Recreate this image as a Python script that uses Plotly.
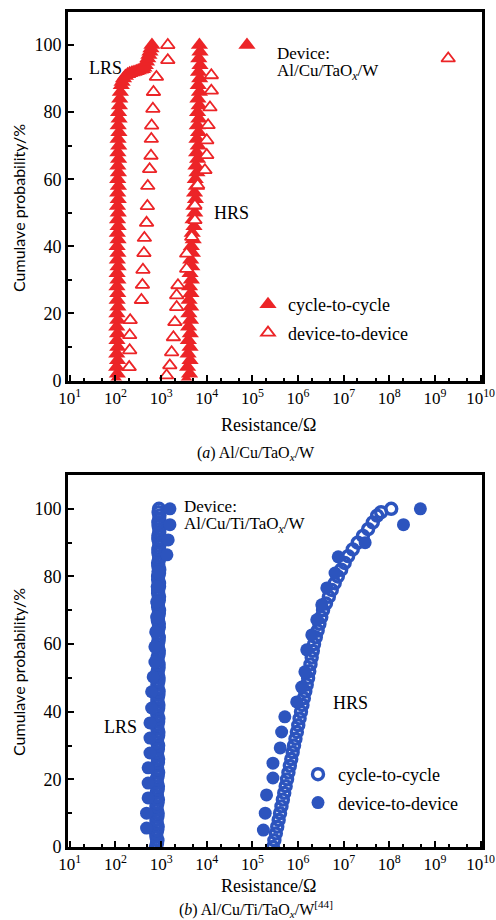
import plotly.graph_objects as go

W, H = 496, 920
RED = "#ec2427"
BLUE = "#2c54be"
SERIF = "Liberation Serif"
SANS = "Lato"

# ---------------- (a) Al/Cu/TaOx/W ----------------
# cycle-to-cycle, LRS (resistance in ohm, cumulative probability in %)
a_c2c_lrs_P = [0, 2, 4, 6, 8, 10, 12, 14, 16, 18, 20, 22, 24, 26, 28, 30, 32, 34, 36, 38,
               40, 42, 44, 46, 48, 50, 52, 54, 56, 58, 60, 62, 64, 66, 68, 70, 72, 74, 76, 78,
               80, 82, 84, 86, 88,
               89, 90, 90.8, 91.3, 91.6, 91.8, 92, 92.2, 92.4, 92.6, 92.8, 93.2, 94, 95, 96, 97, 98, 99, 100]
a_c2c_lrs_R = [104, 110, 106, 111, 107, 112, 108, 111, 107, 112, 108, 113, 109, 112, 108, 113, 109, 114, 110, 113,
               109, 114, 110, 114, 111, 115, 111, 115, 112, 116, 112, 116, 113, 117, 113, 118, 114, 119, 115, 120,
               117, 122, 124, 128, 134,
               140, 150, 165, 185, 205, 230, 255, 285, 315, 350, 390, 420, 450, 480, 510, 540, 570, 600, 630]
# cycle-to-cycle, HRS
a_c2c_hrs_P = [0, 2, 4, 6, 8, 10, 12, 14, 16, 18, 20, 22, 24, 26, 28, 30, 32, 34, 36, 38,
               40, 42, 44, 46, 48, 50, 52, 54, 56, 58, 60, 62, 64, 66, 68, 70, 72, 74, 76, 78,
               80, 82, 84, 86, 88, 90, 92, 94, 96, 98, 100, 100]
a_c2c_hrs_R = [3600, 4200, 3800, 4300, 3900, 4300, 3950, 4350, 4000, 4400,
               4050, 4450, 4100, 4500, 4200, 4600, 4300, 4700, 4450, 4850,
               4600, 5050, 4800, 5250, 5000, 5450, 5200, 5650, 5400, 5900,
               5600, 6100, 5800, 6300, 6000, 6500, 6100, 6600, 6200, 6700,
               6300, 6800, 6400, 6900, 6500, 7000, 6600, 7100, 6700, 7100, 6900, 76000]
# device-to-device, LRS
a_d2d_lrs_P = [4, 9, 13.5, 18, 24, 28.5, 33, 38, 42.5, 47, 52, 58, 63, 67, 72, 76, 81, 86, 90.5, 95.5, 100]
a_d2d_lrs_R = [200, 205, 205, 210, 370, 390, 400, 420, 430, 480, 500, 510, 560, 600, 610, 620, 660, 680, 790, 1400, 1400]
# device-to-device, HRS
a_d2d_hrs_P = [1.5, 4.5, 8.4, 12.9, 17.4, 21.9, 25.4, 28.4, 33.3, 37.8, 42.8, 47.8, 52.2,
               58.2, 62.7, 67.2, 71.6, 76.1, 81.4, 86.4, 91, 96]
a_d2d_hrs_R = [1320, 1550, 1700, 1860, 2000, 2190, 2190, 2340, 3630, 3630, 4680, 5500, 5500,
               6310, 9120, 10000, 10000, 10700, 11750, 12590, 12590, 1.95e9]

# ---------------- (b) Al/Cu/Ti/TaOx/W ----------------
b_c2c_lrs_P = [0, 1, 2, 3, 4, 5, 6, 7, 8, 9, 10, 11, 12, 13, 14, 15, 16, 17, 18, 19,
               20, 21, 22, 23, 24, 25, 26, 27, 28, 29, 30, 31, 32, 33, 34, 35, 36, 37, 38, 39,
               40, 41, 42, 43, 44, 45, 46, 47, 48, 49, 50, 51, 52, 53, 54, 55, 56, 57, 58, 59,
               60, 61, 62, 63, 64, 65, 66, 67, 68, 69, 70, 71, 72, 73, 74, 75, 76, 77, 78, 79,
               80, 81, 82, 83, 84, 85, 86, 87, 88, 89, 90, 91, 92, 93, 94, 95, 96, 97, 98, 99, 100]
b_c2c_lrs_R = [770, 810, 830, 790, 780, 820, 840, 800, 790, 830,
               840, 800, 790, 830, 850, 810, 800, 840, 850, 810,
               800, 840, 860, 820, 810, 850, 860, 820, 810, 850,
               860, 820, 820, 860, 870, 830, 820, 860, 870, 830,
               820, 860, 870, 830, 830, 870, 880, 840, 830, 870,
               880, 840, 840, 880, 880, 840, 840, 880, 890, 850,
               840, 880, 890, 850, 850, 890, 890, 850, 850, 890,
               900, 860, 850, 890, 900, 860, 860, 900, 900, 860,
               860, 900, 910, 870, 860, 900, 910, 870, 870, 910,
               910, 870, 870, 910, 920, 880, 870, 910, 920, 880, 900]
b_c2c_hrs_P = [0, 2, 4, 6, 8, 10, 12, 14, 16, 18, 20, 22, 24, 26, 28, 30, 32, 34, 36, 38,
               40, 42, 44, 46, 48, 50, 52, 54, 56, 58, 60, 62, 64, 66, 68, 70, 72, 74, 76, 78,
               80, 82, 84, 86, 88, 90, 92, 94, 96, 98, 99, 100]
b_c2c_hrs_R = [2.83e5, 3.03e5, 3.26e5, 3.50e5, 3.76e5, 4.03e5, 4.33e5, 4.65e5, 4.98e5, 5.35e5,
               5.74e5, 6.15e5, 6.61e5, 7.10e5, 7.62e5, 8.17e5, 8.77e5, 9.42e5, 1.01e6, 1.08e6,
               1.16e6, 1.25e6, 1.34e6, 1.44e6, 1.55e6, 1.66e6, 1.76e6, 1.87e6, 1.99e6, 2.11e6,
               2.24e6, 2.45e6, 2.69e6, 2.94e6, 3.23e6, 3.53e6, 4.09e6, 4.73e6, 5.48e6, 6.35e6,
               7.43e6, 8.81e6, 1.05e7, 1.25e7, 1.58e7, 2.03e7, 2.64e7, 3.43e7, 4.35e7, 5.40e7,
               6.6e7, 1.1e8]
b_d2d_lrs_P = [5.6, 10, 14.5, 18.9, 23.4, 27.8, 32.2, 36.7, 41.1, 45.9, 50.3, 54.7, 59.2, 63.6,
               68, 72.5, 77, 81.4, 86.4, 90.8, 95.3, 100]
b_d2d_lrs_R = [480, 480, 520, 520, 520, 570, 570, 570, 620, 620, 670, 730, 730, 760,
               800, 800, 820, 850, 1340, 1430, 1560, 1560]
b_d2d_hrs_P = [5, 10, 15.4, 20.4, 24.8, 29.3, 34, 38.5, 42.9, 47.3, 51.8, 58.3, 62.7, 67.2,
               71.6, 76.6, 81, 85.8, 90, 95.3, 100]
b_d2d_hrs_R = [1.74e5, 1.91e5, 2.04e5, 2.82e5, 2.82e5, 4.07e5, 4.37e5, 5.13e5, 9.33e5, 1.20e6,
               1.41e6, 1.55e6, 2.0e6, 2.57e6, 3.31e6, 4.27e6, 6.46e6, 7.59e6, 2.95e7, 2.04e8, 4.79e8]

# axis ticks
x_tick_exp = [1, 2, 3, 4, 5, 6, 7, 8, 9, 10]
x_tick_vals = [10 ** e for e in x_tick_exp]
x_tick_text = ["10<sup>%d</sup>" % e for e in x_tick_exp]
y_tick_vals = [0, 20, 40, 60, 80, 100]
y_tick_text = ["0", "20", "40", "60", "80", "100"]

fig = go.Figure()

# panel (a)
fig.add_trace(go.Scatter(
    x=a_c2c_lrs_R + a_c2c_hrs_R, y=a_c2c_lrs_P + a_c2c_hrs_P, mode="markers",
    name="cycle-to-cycle", legend="legend", legendgroup="a1",
    marker=dict(symbol="triangle-up", size=15, color=RED, line=dict(width=0)),
    xaxis="x", yaxis="y"))
fig.add_trace(go.Scatter(
    x=a_d2d_lrs_R + a_d2d_hrs_R, y=a_d2d_lrs_P + a_d2d_hrs_P, mode="markers",
    name="device-to-device", legend="legend", legendgroup="a2",
    marker=dict(symbol="triangle-up", size=12, color="white", line=dict(color=RED, width=1.8)),
    xaxis="x", yaxis="y"))

# panel (b)
fig.add_trace(go.Scatter(
    x=b_c2c_lrs_R + b_c2c_hrs_R, y=b_c2c_lrs_P + b_c2c_hrs_P, mode="markers",
    name="cycle-to-cycle", legend="legend2", legendgroup="b1",
    marker=dict(symbol="circle-open", size=11, color=BLUE, line=dict(color=BLUE, width=3.4)),
    xaxis="x2", yaxis="y2"))
fig.add_trace(go.Scatter(
    x=b_d2d_lrs_R + b_d2d_hrs_R, y=b_d2d_lrs_P + b_d2d_hrs_P, mode="markers",
    name="device-to-device", legend="legend2", legendgroup="b2",
    marker=dict(symbol="circle", size=13, color=BLUE, line=dict(width=0)),
    xaxis="x2", yaxis="y2"))


def px_x(p):
    return p / W


def px_y(p):
    return 1 - p / H


xdom = [px_x(68), px_x(482)]
ydom_a = [px_y(380.5), px_y(11.5)]
ydom_b = [px_y(847), px_y(475)]

xaxis_common = dict(
    type="log", range=[0.96, 10.03], tickmode="array", tickvals=x_tick_vals, ticktext=x_tick_text,
    ticks="inside", ticklen=6, tickwidth=2, tickcolor="black",
    minor=dict(ticks="inside", ticklen=3, tickwidth=1.5, tickcolor="black", dtick="D2"),
    showline=True, linewidth=3, linecolor="black", mirror=True,
    showgrid=False, zeroline=False, automargin=False,
    tickfont=dict(family=SERIF, size=17, color="black"), domain=xdom,
)
yaxis_common = dict(
    range=[0, 110], tickmode="array", tickvals=y_tick_vals, ticktext=y_tick_text,
    ticks="inside", ticklen=6, tickwidth=2, tickcolor="black",
    minor=dict(ticks="inside", ticklen=4, tickwidth=2, tickcolor="black", dtick=10, tick0=0),
    showline=True, linewidth=3, linecolor="black", mirror=True,
    showgrid=False, zeroline=False, automargin=False,
    tickfont=dict(family=SERIF, size=18, color="black"),
)

legend_common = dict(
    xanchor="left", yanchor="top", bgcolor="rgba(0,0,0,0)", borderwidth=0,
    font=dict(family=SERIF, size=18, color="black"), tracegroupgap=2,
    traceorder="grouped", itemsizing="trace",
)

annotations = []


def note(text, x, y, size=18, xanchor="center", family=SERIF, angle=0):
    annotations.append(dict(
        text=text, x=px_x(x), y=px_y(y), xref="paper", yref="paper",
        xanchor=xanchor, yanchor="middle", showarrow=False, textangle=angle,
        font=dict(family=family, size=size, color="black")))


# panel (a) texts
note("LRS", 105, 68)
note("HRS", 231, 213)
note("Device:", 275, 53, size=17, xanchor="left")
note("Al/Cu/TaO<sub><i>x</i></sub>/W", 275, 72, size=17, xanchor="left")
note("Resistance/Ω", 268, 425)
note("(<i>a</i>) Al/Cu/TaO<sub><i>x</i></sub>/W", 256, 453, size=16)
note("Cumulave probability/%", 18, 208, size=16, family=SANS, angle=-90)

# panel (b) texts
note("LRS", 120, 727)
note("HRS", 350, 703)
note("Device:", 182, 506, size=17, xanchor="left")
note("Al/Cu/Ti/TaO<sub><i>x</i></sub>/W", 182, 525, size=17, xanchor="left")
note("Resistance/Ω", 268, 886)
note("(<i>b</i>) Al/Cu/Ti/TaO<sub><i>x</i></sub>/W<sup>[44]</sup>", 256, 909, size=16)
note("Cumulave probability/%", 18, 672, size=16, family=SANS, angle=-90)

fig.update_layout(
    template="none",
    width=W, height=H, margin=dict(l=0, r=0, t=0, b=0, pad=0), autosize=False,
    paper_bgcolor="white", plot_bgcolor="white",
    xaxis=dict(xaxis_common, anchor="y"),
    yaxis=dict(yaxis_common, domain=ydom_a, anchor="x"),
    xaxis2=dict(xaxis_common, anchor="y2"),
    yaxis2=dict(yaxis_common, domain=ydom_b, anchor="x2"),
    legend=dict(legend_common, x=px_x(248), y=px_y(286)),
    legend2=dict(legend_common, x=px_x(298), y=px_y(756)),
    annotations=annotations,
    showlegend=True,
)

fig.write_html(
    "out.html",
    config={"displayModeBar": False},
    post_script="document.body.style.margin='0px';document.body.style.padding='0px';"
                "document.documentElement.style.overflow='hidden';",
)
